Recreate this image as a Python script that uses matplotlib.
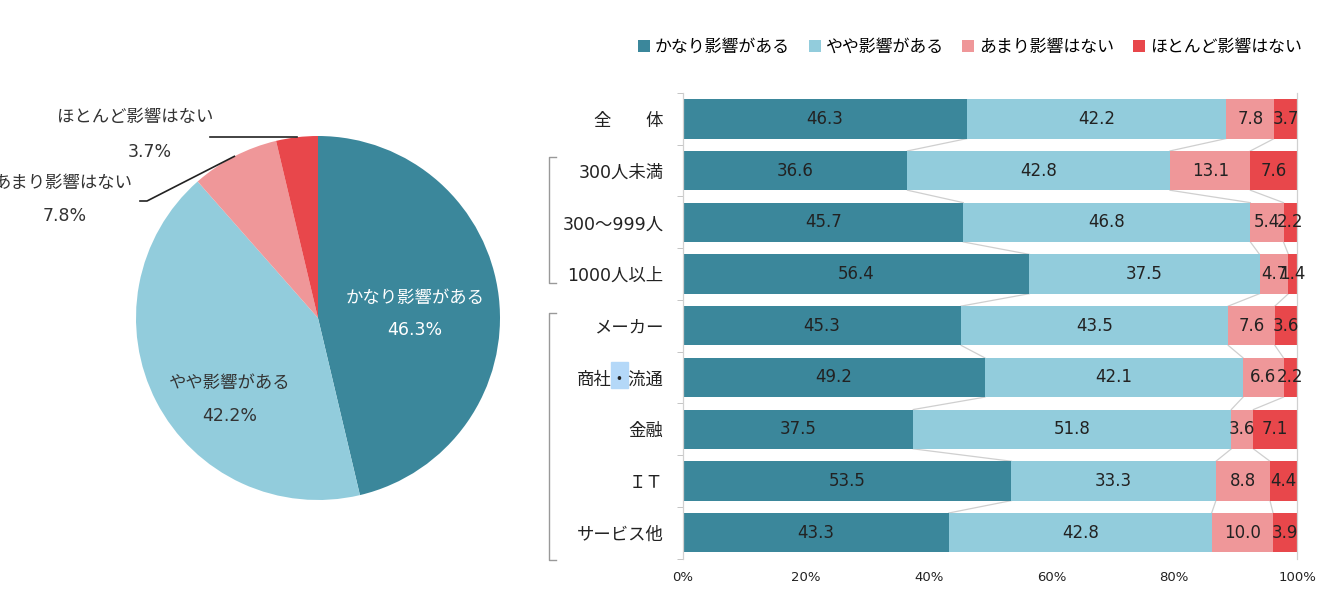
import numpy as np
import matplotlib
matplotlib.use("Agg")
import matplotlib.pyplot as plt
from matplotlib.patches import Rectangle

# 数字は DejaVu Sans（Verdana 風）、日本語は Noto Sans CJK JP
plt.rcParams['font.family'] = ['DejaVu Sans', 'Noto Sans CJK JP']

# データ
series = ["かなり影響がある", "やや影響がある", "あまり影響はない", "ほとんど影響はない"]
colors = ["#3B879B", "#92CCDC", "#EF9799", "#E8474B"]
pie_vals = [46.3, 42.2, 7.8, 3.7]

cats = ["全　　体", "300人未満", "300～999人", "1000人以上",
        "メーカー", "商社・流通", "金融", "ＩＴ", "サービス他"]
kanari = [46.3, 36.6, 45.7, 56.4, 45.3, 49.2, 37.5, 53.5, 43.3]
yaya = [42.2, 42.8, 46.8, 37.5, 43.5, 42.1, 51.8, 33.3, 42.8]
amari = [7.8, 13.1, 5.4, 4.7, 7.6, 6.6, 3.6, 8.8, 10.0]
hotondo = [3.7, 7.6, 2.2, 1.4, 3.6, 2.2, 7.1, 4.4, 3.9]

W, H = 1323, 598
fig = plt.figure(figsize=(W / 100, H / 100), dpi=100)

# ---- 円グラフ ----
axp = fig.add_axes([0, 0, 600 / W, 1])
cx, cy, r = 318, H - 318, 182
axp.pie(pie_vals, colors=colors, startangle=90, counterclock=False,
        center=(cx, cy), radius=r, wedgeprops=dict(linewidth=0))
axp.set_xlim(0, 600)
axp.set_ylim(0, H)
axp.set_aspect('equal')
axp.axis('off')

fs = 12.5
axp.text(415, 300, series[0], color="white", fontsize=fs, ha="center", va="center")
axp.text(415, 268, "%.1f%%" % pie_vals[0], color="white", fontsize=fs, ha="center", va="center")
axp.text(230, 215, series[1], color="#333333", fontsize=fs, ha="center", va="center")
axp.text(230, 182, "%.1f%%" % pie_vals[1], color="#333333", fontsize=fs, ha="center", va="center")
axp.text(135, 481, series[3], color="#333333", fontsize=fs, ha="center", va="center")
axp.text(150, 446, "%.1f%%" % pie_vals[3], color="#333333", fontsize=fs, ha="center", va="center")
axp.text(63, 415, series[2], color="#333333", fontsize=fs, ha="center", va="center")
axp.text(65, 382, "%.1f%%" % pie_vals[2], color="#333333", fontsize=fs, ha="center", va="center")

# 引き出し線（扇形の中央角から端点を計算）
cum = np.cumsum([0] + pie_vals) / sum(pie_vals)
def edge_pt(i):
    a = np.deg2rad(90 - 360 * (cum[i] + cum[i + 1]) / 2)
    return cx + r * np.cos(a), cy + r * np.sin(a)
ex, ey = edge_pt(3)
axp.plot([210, ex], [ey, ey], color="#222222", lw=1.2)
ex, ey = edge_pt(2)
axp.plot([140, 147, ex], [H - 201, H - 201, ey], color="#222222", lw=1.2)

# ---- 帯グラフ ----
axb = fig.add_axes([683 / W, 1 - 558.5 / H, (1297 - 683) / W, (558.5 - 93) / H])
raw = np.array([kanari, yaya, amari, hotondo], dtype=float)
data = raw / raw.sum(axis=0) * 100
y = np.arange(len(cats))
h = 0.76
left = np.zeros(len(cats))
for k in range(4):
    axb.barh(y, data[k], left=left, height=h, color=colors[k], label=series[k], zorder=2)
    for i in range(len(cats)):
        axb.text(left[i] + data[k][i] / 2, y[i], "%.1f" % raw[k][i], ha="center", va="center",
                 fontsize=12, color="#222222", zorder=4)
    left = left + data[k]

# 区分線
bounds = np.cumsum(data, axis=0)[:3]
for b in bounds:
    for i in range(len(cats) - 1):
        axb.plot([b[i], b[i + 1]], [y[i] + h / 2, y[i + 1] - h / 2], color="#cfcfcf", lw=0.9, zorder=1)

axb.set_xlim(0, 100)
axb.set_ylim(len(cats) - 0.5, -0.5)
axb.set_yticks(y)
axb.set_yticklabels(cats, fontsize=12.5, color="#222222")
axb.set_yticks(np.arange(len(cats) + 1) - 0.5, minor=True)
axb.tick_params(axis='y', which='major', length=0, pad=14)
axb.tick_params(axis='y', which='minor', length=4, color="#bbbbbb")
axb.set_xticks([0, 20, 40, 60, 80, 100])
axb.set_xticklabels(["0%", "20%", "40%", "60%", "80%", "100%"], fontsize=9.5, color="#222222")
axb.tick_params(axis='x', length=0, pad=9)
for s in ["top", "bottom"]:
    axb.spines[s].set_visible(False)
for s in ["left", "right"]:
    axb.spines[s].set_color("#d0d0d0")
    axb.spines[s].set_linewidth(0.9)

# カテゴリーの括弧
def bracket(y0, y1, x0=549, x1=556):
    fig.add_artist(plt.Line2D([x1 / W, x0 / W, x0 / W, x1 / W],
                              [1 - y0 / H, 1 - y0 / H, 1 - y1 / H, 1 - y1 / H],
                              color="#999999", lw=1.0))
bracket(157, 283)
bracket(313, 560)

# 「・」のハイライト
fig.add_artist(Rectangle((611 / W, 1 - 388 / H), 17 / W, 26 / H, color="#B4D8F8", zorder=-1))

# 凡例
fig.legend(loc="center", bbox_to_anchor=(970 / W, 1 - 47 / H), ncol=4, frameon=False,
           fontsize=12.2, handlelength=0.7, handleheight=0.7, handletextpad=0.3,
           columnspacing=1.1)

fig.savefig("out.png", dpi=100)
